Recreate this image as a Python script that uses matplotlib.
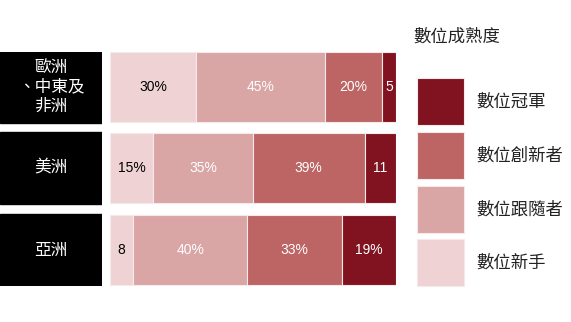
import matplotlib.pyplot as plt
from matplotlib.patches import Rectangle

plt.rcParams['font.family'] = ['Noto Sans CJK TC', 'DejaVu Sans']

regions = ['歐洲\n、中東及\n非洲', '美洲', '亞洲']
levels = ['數位新手', '數位跟隨者', '數位創新者', '數位冠軍']
colors = ['#efd3d4', '#d9a5a5', '#bd6464', '#80131f']
text_colors = ['black', 'white', 'white', 'white']

share = [
    [30, 15, 8],    # 數位新手
    [45, 35, 40],   # 數位跟隨者
    [20, 39, 33],   # 數位創新者
    [5, 11, 19],    # 數位冠軍
]
labels = [
    ['30%', '15%', '8'],
    ['45%', '35%', '40%'],
    ['20%', '39%', '33%'],
    ['5', '11', '19%'],
]

W, H = 571, 322
fig = plt.figure(figsize=(W / 100, H / 100), dpi=100)

def px_axes(x0, y0, x1, y1):
    # axes placed by pixel box (top-left origin)
    return fig.add_axes([x0 / W, 1 - y1 / H, (x1 - x0) / W, (y1 - y0) / H])

rows_y = [87, 168, 250]
bar_h = 70

# stacked bars
ax = px_axes(110, 52, 396, 286)
left = [0, 0, 0]
for i, lev in enumerate(levels):
    ax.barh(rows_y, share[i], left=left, height=bar_h, color=colors[i],
            edgecolor='#f7e9ea', linewidth=0.8)
    for r in range(3):
        ax.text(left[r] + share[i][r] / 2, rows_y[r], labels[i][r],
                ha='center', va='center', fontsize=10, color=text_colors[i],
                family=['Liberation Sans', 'DejaVu Sans'])
    left = [a + b for a, b in zip(left, share[i])]
ax.set_xlim(0, 100)
ax.set_ylim(286, 52)
ax.axis('off')

# region label boxes
axl = px_axes(0, 52, 102, 286)
axl.set_xlim(0, 1)
axl.set_ylim(286, 52)
for r, name in enumerate(regions):
    axl.add_patch(Rectangle((0, rows_y[r] - 36), 1, 72, color='black'))
    axl.text(0.5, rows_y[r], name, ha='center', va='center', color='white',
             fontsize=12, linespacing=1.2)
axl.axis('off')

# legend
axg = px_axes(405, 0, W, H)
axg.set_xlim(405, W)
axg.set_ylim(H, 0)
axg.text(413, 37, '數位成熟度', ha='left', va='center', fontsize=12.5, color='#222222')
leg_top = [78, 132, 186, 239]
for k, i in enumerate([3, 2, 1, 0]):
    axg.add_patch(Rectangle((417, leg_top[k]), 47, 47, facecolor=colors[i],
                            edgecolor='#f7e9ea', linewidth=0.8))
    axg.text(476, leg_top[k] + 24, levels[i], ha='left', va='center',
             fontsize=12.5, color='#222222')
axg.axis('off')

fig.savefig('out.png', dpi=100)
